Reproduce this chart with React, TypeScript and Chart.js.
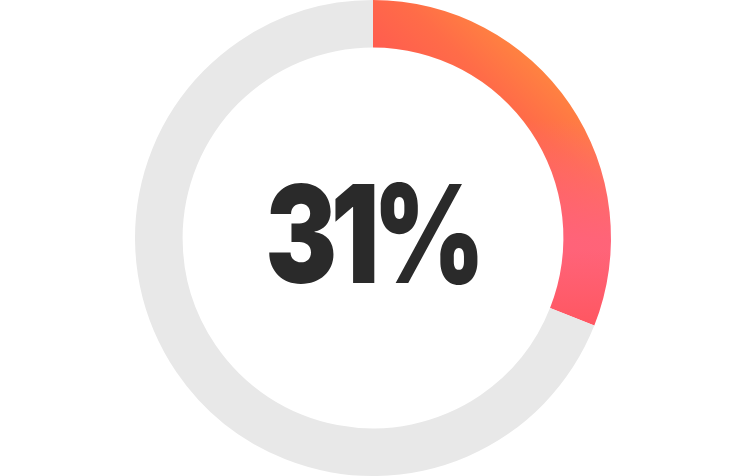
import React, { useEffect, useRef } from 'react';
import { Chart, registerables } from 'chart.js';

Chart.register(...registerables);

const labels = ['Done', 'Remaining'];
const values = [31, 69];
const centerLabel = '31%';

const centerText = {
  id: 'centerText',
  afterDraw(chart: any) {
    const { ctx, chartArea } = chart;
    const cx = (chartArea.left + chartArea.right) / 2;
    ctx.save();
    ctx.fillStyle = '#2a2a2a';
    ctx.font = '900 136px Inter, "DejaVu Sans", sans-serif';
    ctx.textAlign = 'left';
    ctx.textBaseline = 'alphabetic';
    (ctx as any).letterSpacing = '-8px';
    ctx.translate(cx - 1, 283);
    ctx.scale(0.79, 1);
    const w = ctx.measureText(centerLabel).width;
    ctx.fillText(centerLabel, -w / 2, 0);
    ctx.restore();
  },
};

// paint the warm gradient once on an offscreen canvas and use it as a pattern
let warmPattern: CanvasPattern | null = null;
const makePattern = (ctx: CanvasRenderingContext2D, w: number, h: number) => {
  const off = document.createElement('canvas');
  off.width = w;
  off.height = h;
  const o = off.getContext('2d')!;
  const g1 = o.createLinearGradient(640, -30, 470, 150);
  g1.addColorStop(0, '#ff9a3a');
  g1.addColorStop(0.5, '#ff8a3e');
  g1.addColorStop(0.75, '#ff6c48');
  g1.addColorStop(1, '#ff5a50');
  o.fillStyle = g1;
  o.fillRect(0, 0, w, h);
  const g2 = o.createLinearGradient(0, 120, 0, 240);
  g2.addColorStop(0, 'rgba(255,110,140,0)');
  g2.addColorStop(1, 'rgba(255,100,125,0.9)');
  o.fillStyle = g2;
  o.fillRect(0, 0, w, h);
  const g3 = o.createLinearGradient(0, 250, 0, 330);
  g3.addColorStop(0, 'rgba(255,88,98,0)');
  g3.addColorStop(1, 'rgba(255,85,95,1)');
  o.fillStyle = g3;
  o.fillRect(0, 0, w, h);
  return ctx.createPattern(off, 'no-repeat');
};

const App: React.FC = () => {
  const canvasRef = useRef<HTMLCanvasElement | null>(null);
  const chartRef = useRef<Chart | null>(null);

  useEffect(() => {
    document.body.style.margin = '0';
    if (!canvasRef.current) return;
    const ctx = canvasRef.current.getContext('2d');
    if (!ctx) return;
    if (chartRef.current) chartRef.current.destroy();

    const fill = (c: any) => {
      if (c.dataIndex === 1) return '#e8e8e8';
      if (!c.chart.chartArea) return '#ff6a50';
      if (!warmPattern) warmPattern = makePattern(c.chart.ctx, 746, 476);
      return warmPattern || '#ff6a50';
    };

    chartRef.current = new Chart(ctx, {
      type: 'doughnut',
      data: {
        labels,
        datasets: [
          {
            data: values,
            backgroundColor: fill as any,
            borderWidth: 0,
          },
        ],
      },
      options: {
        animation: false,
        responsive: true,
        maintainAspectRatio: false,
        cutout: '80%',
        plugins: {
          legend: { display: false },
          tooltip: { enabled: false },
        },
      },
      plugins: [centerText],
    });

    return () => {
      if (chartRef.current) {
        chartRef.current.destroy();
        chartRef.current = null;
      }
    };
  }, []);

  return (
    <div style={{ position: 'relative', width: '746px', height: '476px' }}>
      <canvas ref={canvasRef}></canvas>
    </div>
  );
};

export default App;
